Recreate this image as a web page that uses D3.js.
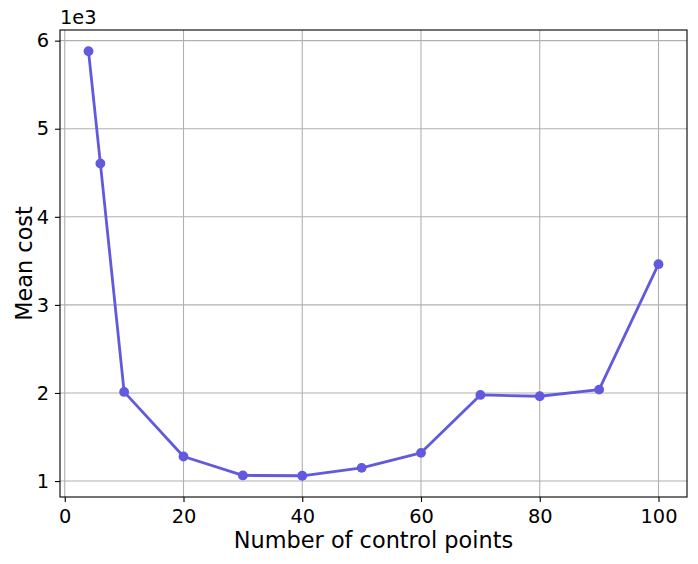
<!DOCTYPE html>
<html>
<head>
<meta charset="utf-8">
<script src="https://cdn.jsdelivr.net/npm/d3@7"></script>
<style>
  body { margin: 0; background: #fff; }
  svg text { font-family: "DejaVu Sans", sans-serif; fill: #000; }
</style>
</head>
<body>
<div id="chart"></div>
<script>
// control point counts and the mean cost
const controlPoints = [4, 6, 10, 20, 30, 40, 50, 60, 70, 80, 90, 100];
const meanCost = [5880, 4606, 2012, 1279, 1064, 1060, 1150, 1320, 1978, 1963, 2038, 3462];
const xTicks = [0, 20, 40, 60, 80, 100];
const yTicks = [1000, 2000, 3000, 4000, 5000, 6000];

const width = 698, height = 564;
const margin = { top: 30, right: 11, bottom: 67, left: 60 };
const lineColor = "#6159de";

const svg = d3.select("#chart").append("svg")
  .attr("width", width)
  .attr("height", height);

// matplotlib-ish 5% padding on both axes
const xPad = (d3.max(controlPoints) - d3.min(controlPoints)) * 0.05;
const yPad = (d3.max(meanCost) - d3.min(meanCost)) * 0.05;

const x = d3.scaleLinear()
  .domain([d3.min(controlPoints) - xPad, d3.max(controlPoints) + xPad])
  .range([margin.left, width - margin.right]);

const y = d3.scaleLinear()
  .domain([d3.min(meanCost) - yPad, d3.max(meanCost) + yPad])
  .range([height - margin.bottom, margin.top]);

// grid
svg.append("g").selectAll("line").data(xTicks).join("line")
  .attr("x1", d => x(d)).attr("x2", d => x(d))
  .attr("y1", margin.top).attr("y2", height - margin.bottom)
  .attr("stroke", "#b0b0b0").attr("stroke-width", 1.1);

svg.append("g").selectAll("line").data(yTicks).join("line")
  .attr("x1", margin.left).attr("x2", width - margin.right)
  .attr("y1", d => y(d)).attr("y2", d => y(d))
  .attr("stroke", "#b0b0b0").attr("stroke-width", 1.1);

// axes
const xAxis = svg.append("g")
  .attr("transform", `translate(0,${height - margin.bottom})`)
  .call(d3.axisBottom(x).tickValues(xTicks).tickSize(5).tickPadding(7));

const yAxis = svg.append("g")
  .attr("transform", `translate(${margin.left},0)`)
  .call(d3.axisLeft(y).tickValues(yTicks).tickFormat(d => d / 1000).tickSize(5).tickPadding(6));

[xAxis, yAxis].forEach(g => {
  g.select(".domain").remove();
  g.selectAll(".tick line").attr("stroke", "#000").attr("stroke-width", 1.1);
  g.selectAll(".tick text").attr("font-size", 19.4).attr("font-family", "DejaVu Sans");
});

// frame
svg.append("rect")
  .attr("x", margin.left).attr("y", margin.top)
  .attr("width", width - margin.left - margin.right)
  .attr("height", height - margin.top - margin.bottom)
  .attr("fill", "none").attr("stroke", "#000").attr("stroke-width", 1.1);

// data line
svg.append("path")
  .datum(controlPoints.map((c, i) => [c, meanCost[i]]))
  .attr("fill", "none")
  .attr("stroke", lineColor)
  .attr("stroke-width", 2.8)
  .attr("stroke-linejoin", "round")
  .attr("d", d3.line().x(d => x(d[0])).y(d => y(d[1])));

svg.append("g").selectAll("circle")
  .data(controlPoints.map((c, i) => [c, meanCost[i]]))
  .join("circle")
  .attr("cx", d => x(d[0]))
  .attr("cy", d => y(d[1]))
  .attr("r", 4.9)
  .attr("fill", lineColor);

// labels
svg.append("text")
  .attr("x", (margin.left + width - margin.right) / 2)
  .attr("y", 548)
  .attr("text-anchor", "middle")
  .attr("font-size", 22.4)
  .text("Number of control points");

svg.append("text")
  .attr("transform", `translate(32,${(margin.top + height - margin.bottom) / 2}) rotate(-90)`)
  .attr("text-anchor", "middle")
  .attr("font-size", 22.4)
  .text("Mean cost");

svg.append("text")
  .attr("x", margin.left)
  .attr("y", 24)
  .attr("font-size", 19.4)
  .text("1e3");
</script>
</body>
</html>
